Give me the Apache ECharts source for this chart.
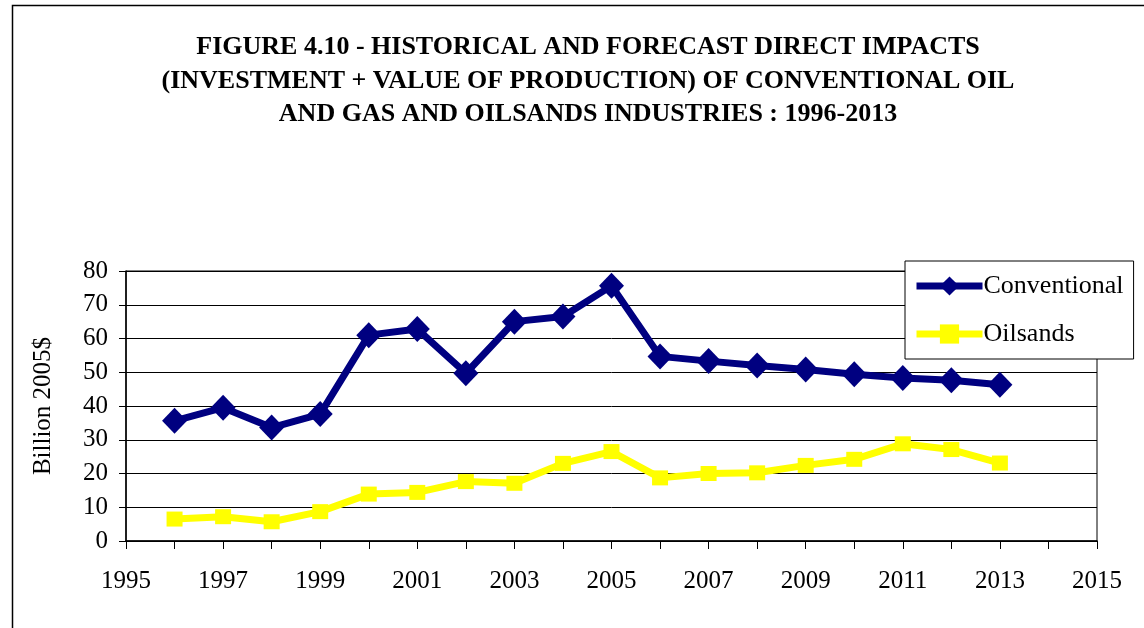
<!DOCTYPE html>
<html>
<head>
<meta charset="utf-8">
<script src="https://cdn.jsdelivr.net/npm/echarts@6/dist/echarts.min.js"></script>
<style>
html,body{margin:0;padding:0;background:#fff;}
#chart{width:1144px;height:628px;}
</style>
</head>
<body>
<div id="chart"></div>
<script>
const years = [1996,1997,1998,1999,2000,2001,2002,2003,2004,2005,2006,2007,2008,2009,2010,2011,2012,2013];
const conventional = [35.6,39.5,33.6,37.6,61.0,62.8,49.7,65.0,66.5,75.6,54.7,53.3,52.0,50.8,49.4,48.3,47.6,46.3];
const oilsands = [6.5,7.2,5.7,8.7,13.9,14.4,17.6,17.1,23.0,26.5,18.7,20.0,20.2,22.4,24.2,28.8,27.1,23.1];
const titleLines = ['FIGURE 4.10 - HISTORICAL AND FORECAST DIRECT IMPACTS','(INVESTMENT + VALUE OF PRODUCTION) OF CONVENTIONAL OIL','AND GAS AND OILSANDS INDUSTRIES : 1996-2013'];
const yAxisName = 'Billion 2005$';

const serif = '"Liberation Serif", "DejaVu Serif", serif';
const chart = echarts.init(document.getElementById('chart'));
const pair = (xs, ys) => xs.map((x, i) => [x, ys[i]]);

chart.setOption({
  backgroundColor: '#fff',
  animation: false,
  title: {
    text: titleLines.join('\n'),
    left: 583, top: 26, textAlign: 'center',
    textStyle: { fontFamily: serif, fontWeight: 'bold', fontSize: 26, lineHeight: 33.5, color: '#000' }
  },
  graphic: [{
    type: 'rect', left: 10, top: 3, silent: true,
    shape: { width: 1200, height: 700 },
    style: { fill: 'none', stroke: '#000', lineWidth: 1.5 }
  }],
  grid: { left: 126, right: 47, top: 271, bottom: 87, show: true, borderColor: '#000', borderWidth: 1, backgroundColor: 'transparent' },
  legend: {
    orient: 'vertical', left: 905, top: 261, width: 227,
    backgroundColor: '#fff', borderColor: '#000', borderWidth: 1,
    padding: [12, 10, 12, 8], itemGap: 22, itemWidth: 66, itemHeight: 24,
    lineStyle: { width: 7 },
    textStyle: { fontFamily: serif, fontSize: 26, color: '#000', padding: [0, 0, 0, -4] },
    data: ['Conventional', 'Oilsands']
  },
  xAxis: {
    type: 'value', min: 1995, max: 2015, interval: 2,
    axisLine: { show: true, onZero: false, lineStyle: { color: '#000', width: 1.5 } },
    axisTick: { show: true, inside: false, length: 8, lineStyle: { color: '#000' } },
    minorTick: { show: true, splitNumber: 2, length: 8, lineStyle: { color: '#000' } },
    splitLine: { show: false },
    axisLabel: { fontFamily: serif, fontSize: 25, color: '#000', margin: 28, formatter: v => String(v) }
  },
  yAxis: {
    type: 'value', min: 0, max: 80, interval: 10,
    name: yAxisName, nameLocation: 'middle', nameGap: 70, nameRotate: 90,
    nameTextStyle: { fontFamily: serif, fontSize: 25, color: '#000' },
    axisLine: { show: true, lineStyle: { color: '#000', width: 1.5 } },
    axisTick: { show: true, length: 7, lineStyle: { color: '#000' } },
    splitLine: { show: true, lineStyle: { color: '#000', width: 1 } },
    axisLabel: { fontFamily: serif, fontSize: 25, color: '#000', margin: 18 }
  },
  series: [
    {
      name: 'Conventional', type: 'line', data: pair(years, conventional),
      symbol: 'diamond', symbolSize: [25, 26],
      lineStyle: { color: '#000080', width: 7 },
      itemStyle: { color: '#000080' }, z: 3
    },
    {
      name: 'Oilsands', type: 'line', data: pair(years, oilsands),
      symbol: 'rect', symbolSize: [16, 15],
      lineStyle: { color: '#FFFF00', width: 7 },
      itemStyle: { color: '#FFFF00' }, z: 2
    }
  ]
});
</script>
</body>
</html>
